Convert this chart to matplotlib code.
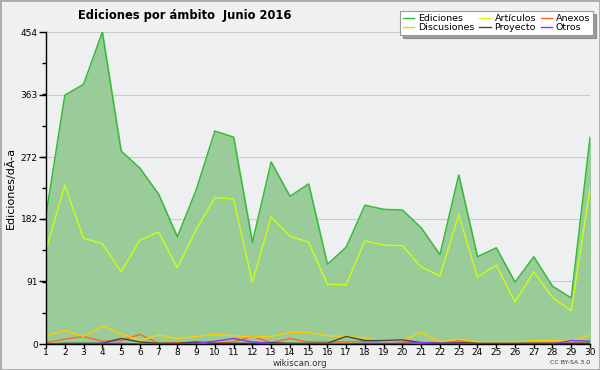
import matplotlib
matplotlib.use("Agg")
import matplotlib.pyplot as plt
from matplotlib.patches import Rectangle
from matplotlib.ticker import FixedLocator, MultipleLocator

days = list(range(1, 31))
ediciones = [188, 362, 378, 454, 281, 256, 218, 156, 224, 310, 301, 148, 265, 215, 233,
             116, 141, 202, 196, 195, 169, 130, 246, 127, 140, 90, 127, 84, 67, 301]
articulos = [137, 231, 154, 146, 105, 151, 163, 111, 166, 213, 211, 90, 185, 157, 148,
             87, 86, 150, 144, 143, 112, 99, 188, 97, 115, 61, 105, 68, 48, 227]
discusiones = [12, 20, 11, 26, 15, 5, 13, 8, 11, 14, 12, 10, 11, 17, 17,
               12, 11, 9, 3, 5, 17, 3, 7, 3, 3, 3, 5, 5, 4, 13]
anexos = [2, 7, 11, 4, 5, 14, 1, 2, 2, 1, 3, 11, 2, 8, 3,
          3, 3, 4, 4, 3, 2, 2, 5, 1, 1, 1, 1, 1, 1, 1]
proyecto = [0, 1, 1, 1, 8, 3, 1, 1, 3, 1, 1, 1, 2, 1, 1,
            1, 11, 5, 5, 6, 2, 1, 2, 1, 1, 1, 1, 1, 1, 1]
otros = [0, 0, 0, 1, 1, 0, 0, 0, 1, 4, 8, 3, 1, 0, 0,
         0, 0, 1, 1, 1, 2, 1, 1, 0, 0, 0, 0, 0, 5, 4]
yticks = [0, 91, 182, 272, 363, 454]

fig = plt.figure(figsize=(6, 3.7), dpi=100, facecolor="#f0f0f0")
ax = fig.add_axes([46/600, 1-344/370, (590-46)/600, (344-32)/370])
ax.set_facecolor("#eeeff1")

ax.fill_between(days, ediciones, 0, color="#99cc99", zorder=2)
ax.plot(days, ediciones, color="#33bb33", lw=1, label="Ediciones", zorder=3)
ax.plot(days, articulos, color="#ccff11", lw=1, label="Artículos", zorder=3)
ax.plot(days, anexos, color="#ff6622", lw=1, label="Anexos", zorder=3)
ax.plot(days, discusiones, color="#ffcc00", lw=1, label="Discusiones", zorder=3)
ax.plot(days, proyecto, color="#444444", lw=1, label="Proyecto", zorder=3)
ax.plot(days, otros, color="#8833ff", lw=1, label="Otros", zorder=3)

ax.set_xlim(1, 30)
ax.set_ylim(0, 454)
ax.set_xticks(days)
ax.set_xticklabels([str(d) for d in days], fontsize=6.5)
ax.yaxis.set_major_locator(FixedLocator(yticks))
ax.set_yticklabels([str(v) for v in yticks], fontsize=6.5)
ax.yaxis.set_minor_locator(MultipleLocator(454/10))
ax.tick_params(axis="y", which="major", length=5, width=1, pad=1)
ax.tick_params(axis="y", which="minor", length=3, width=1)
ax.tick_params(axis="x", length=3, width=1, pad=0)
ax.grid(axis="y", which="major", color="#cccccc", lw=0.8, zorder=1)
ax.set_axisbelow(True)
for s in ["top", "right"]:
    ax.spines[s].set_visible(False)
ax.spines["left"].set_linewidth(1)
ax.spines["bottom"].set_linewidth(1)
ax.spines["left"].set_zorder(4)
ax.spines["bottom"].set_zorder(4)
ax.set_ylabel("Ediciones/dÃ-a", fontsize=8, labelpad=3)

handles, labels = ax.get_legend_handles_labels()
order = [0, 3, 1, 4, 2, 5]
leg = fig.legend([handles[i] for i in order], [labels[i] for i in order], ncol=3,
                 loc="upper right", bbox_to_anchor=(593/600, 1-11/370), fontsize=6.8,
                 frameon=True, fancybox=False, shadow=True, handlelength=1.2,
                 handletextpad=0.4, columnspacing=0.5, labelspacing=0.05,
                 borderpad=0.3, borderaxespad=0)
leg.get_frame().set_edgecolor("#999999")
leg.get_frame().set_linewidth(0.8)

fig.text(185/600, 1-15/370, "Ediciones por ámbito  Junio 2016", fontsize=8.3,
         fontweight="bold", ha="center", va="center")
fig.text(300/600, 1-363/370, "wikiscan.org", fontsize=6.3, ha="center", va="center",
         color="#333333")
fig.text(590/600, 1-363/370, "CC BY-SA 3.0", fontsize=4.5, ha="right", va="center",
         color="#333333")
fig.patches.append(Rectangle((0, 0), 1, 1, transform=fig.transFigure, fill=False,
                             edgecolor="#aaaaaa", lw=2))
fig.savefig("out.png", dpi=100, facecolor=fig.get_facecolor())
